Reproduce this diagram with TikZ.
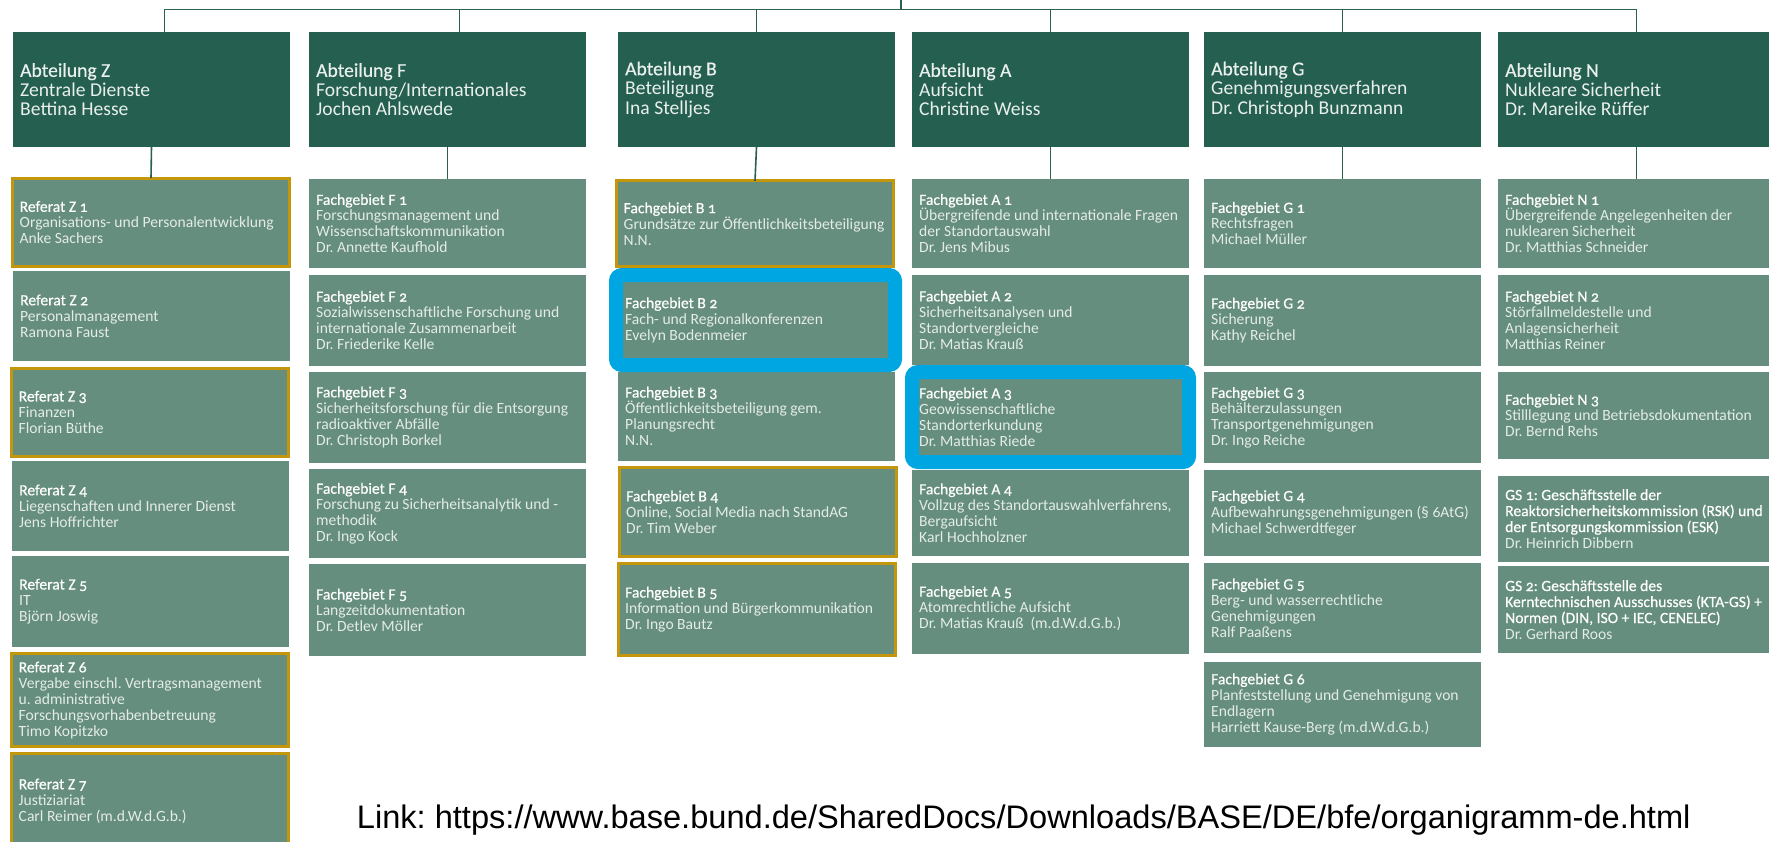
\documentclass[tikz,border=0pt]{standalone}
\usepackage{fontspec}
\setmainfont{Carlito}[Numbers=OldStyle]
\newfontfamily\ttlfont{Carlito}[Numbers=OldStyle,FakeBold=0.5]
\newfontfamily\linkfont{Liberation Sans}
\frenchspacing
\definecolor{dkgreen}{HTML}{245F4F}
\definecolor{subgreen}{HTML}{658E7E}
\definecolor{lineg}{HTML}{2B5F50}
\definecolor{goldc}{HTML}{C4960C}
\definecolor{hlblue}{HTML}{00A6E2}
\definecolor{bodytext}{HTML}{E4EBE8}
\tikzset{
  conn/.style={draw=lineg, line width=1.6pt},
  abt/.style={fill=dkgreen, anchor=north west, minimum width=277pt, minimum height=115pt, inner sep=0pt, outer sep=0pt},
  abttxt/.style={anchor=west, align=left, inner sep=0pt, text=white!90!dkgreen, font=\fontsize{19.6}{19.4}\selectfont},
  sub/.style={fill=subgreen, anchor=north west, minimum width=277pt, inner sep=0pt, outer sep=0pt},
  subtxt/.style={anchor=west, align=left, inner sep=0pt, text=bodytext, font=\fontsize{15.6}{16}\selectfont},
  gold/.style={draw=goldc, line width=3pt},
  plain/.style={},
  hl/.style={draw=hlblue, line width=14pt, rounded corners=6pt},
}
\newcommand{\ttl}[1]{{\ttlfont\color{white}#1}}
\newcommand{\ubox}[6]{%
  \node[sub,#5,minimum height=#4pt] (#1) at (#2,#3) {};
  \node[subtxt] (#1t) at ([xshift=7pt]#1.west) {#6};}
\newcommand{\abox}[4]{%
  \node[abt] (#1) at (#2,#3) {};
  \node[abttxt] (#1t) at ([xshift=7pt]#1.west) {#4};}
\begin{document}
\begin{tikzpicture}[x=1pt,y=-1pt]
\useasboundingbox (0,0) rectangle (1769,841);
\clip (0,0) rectangle (1769,841);
\fill[white] (0,0) rectangle (1769,841);

% Abteilungen
\abox{az}{13}{32}{{\ttlfont Abteilung Z}\\Zentrale Dienste\\Bettina Hesse}
\abox{af}{309}{32}{{\ttlfont Abteilung F}\\Forschung/Internationales\\Jochen Ahlswede}
\abox{ab}{618}{32}{{\ttlfont Abteilung B}\\Beteiligung\\Ina Stelljes}
\abox{aa}{912}{32}{{\ttlfont Abteilung A}\\Aufsicht\\Christine Weiss}
\abox{ag}{1204}{32}{{\ttlfont Abteilung G}\\Genehmigungsverfahren\\Dr. Christoph Bunzmann}
\abox{an}{1498}{32}{{\ttlfont Abteilung N}\\Nukleare Sicherheit\\Dr. Mareike Rüffer}

% Column Z
\ubox{z1}{12.5}{178.2}{88.6}{gold}{\ttl{Referat Z 1}\\Organisations- und Personalentwicklung\\Anke Sachers}
\ubox{z2}{13}{271}{90}{plain}{\ttl{Referat Z 2}\\Personalmanagement\\Ramona Faust}
\ubox{z3}{11.5}{368.2}{88}{gold}{\ttl{Referat Z 3}\\Finanzen\\Florian Büthe}
\ubox{z4}{12}{461}{90}{plain}{\ttl{Referat Z 4}\\Liegenschaften und Innerer Dienst\\Jens Hoffrichter}
\ubox{z5}{12}{556}{91}{plain}{\ttl{Referat Z 5}\\IT\\Björn Joswig}
\ubox{z6}{11.5}{653.8}{93}{gold}{\ttl{Referat Z 6}\\Vergabe einschl. Vertragsmanagement\\u. administrative\\Forschungsvorhabenbetreuung\\Timo Kopitzko}
\ubox{z7}{11.5}{753.5}{95}{gold}{\ttl{Referat Z 7}\\Justiziariat\\Carl Reimer (m.d.W.d.G.b.)}

% Column F
\ubox{f1}{309}{179}{89}{plain}{\ttl{Fachgebiet F 1}\\Forschungsmanagement und\\Wissenschaftskommunikation\\Dr. Annette Kaufhold}
\ubox{f2}{309}{275}{90.7}{plain}{\ttl{Fachgebiet F 2}\\Sozialwissenschaftliche Forschung und\\internationale Zusammenarbeit\\Dr. Friederike Kelle}
\ubox{f3}{309}{371.7}{91}{plain}{\ttl{Fachgebiet F 3}\\Sicherheitsforschung für die Entsorgung\\radioaktiver Abfälle\\Dr. Christoph Borkel}
\ubox{f4}{309}{469}{89.3}{plain}{\ttl{Fachgebiet F 4}\\Forschung zu Sicherheitsanalytik und -\\methodik\\Dr. Ingo Kock}
\ubox{f5}{309}{564.3}{91.7}{plain}{\ttl{Fachgebiet F 5}\\Langzeitdokumentation\\Dr. Detlev Möller}

% Column B
\ubox{b1}{616.5}{180.8}{86}{gold}{\ttl{Fachgebiet B 1}\\Grundsätze zur Öffentlichkeitsbeteiligung\\N.N.}
\ubox{b2}{618}{275}{90}{plain}{\ttl{Fachgebiet B 2}\\Fach- und Regionalkonferenzen\\Evelyn Bodenmeier}
\ubox{b3}{618}{371.7}{89}{plain}{\ttl{Fachgebiet B 3}\\Öffentlichkeitsbeteiligung gem.\\Planungsrecht\\N.N.}
\ubox{b4}{619}{467.2}{89.6}{gold}{\ttl{Fachgebiet B 4}\\Online, Social Media nach StandAG\\Dr. Tim Weber}
\ubox{b5}{618}{563.2}{92.6}{gold}{\ttl{Fachgebiet B 5}\\Information und Bürgerkommunikation\\Dr. Ingo Bautz}

% Column A
\ubox{a1}{912}{179}{89}{plain}{\ttl{Fachgebiet A 1}\\Übergreifende und internationale Fragen\\der Standortauswahl\\Dr. Jens Mibus}
\ubox{a2}{912}{275}{90}{plain}{\ttl{Fachgebiet A 2}\\Sicherheitsanalysen und\\Standortvergleiche\\Dr. Matias Krauß}
\ubox{a3}{912}{372}{90}{plain}{\ttl{Fachgebiet A 3}\\Geowissenschaftliche\\Standorterkundung\\Dr. Matthias Riede}
\ubox{a4}{912}{470}{86}{plain}{\ttl{Fachgebiet A 4}\\Vollzug des Standortauswahlverfahrens,\\Bergaufsicht\\Karl Hochholzner}
\ubox{a5}{912}{562.7}{91.3}{plain}{\ttl{Fachgebiet A 5}\\Atomrechtliche Aufsicht\\Dr. Matias Krauß\ \ (m.d.W.d.G.b.)}

% Column G
\ubox{g1}{1204}{179}{89}{plain}{\ttl{Fachgebiet G 1}\\Rechtsfragen\\Michael Müller}
\ubox{g2}{1204}{275}{90.7}{plain}{\ttl{Fachgebiet G 2}\\Sicherung\\Kathy Reichel}
\ubox{g3}{1204}{372.3}{91}{plain}{\ttl{Fachgebiet G 3}\\Behälterzulassungen\\Transportgenehmigungen\\Dr. Ingo Reiche}
\ubox{g4}{1204}{470}{86}{plain}{\ttl{Fachgebiet G 4}\\Aufbewahrungsgenehmigungen (§ 6AtG)\\Michael Schwerdtfeger}
\ubox{g5}{1204}{562.7}{90.6}{plain}{\ttl{Fachgebiet G 5}\\Berg- und wasserrechtliche\\Genehmigungen\\Ralf Paaßens}
\ubox{g6}{1204}{661.7}{85}{plain}{\ttl{Fachgebiet G 6}\\Planfeststellung und Genehmigung von\\Endlagern\\Harriett Kause-Berg (m.d.W.d.G.b.)}

% Column N
\ubox{n1}{1498}{179}{89}{plain}{\ttl{Fachgebiet N 1}\\Übergreifende Angelegenheiten der\\nuklearen Sicherheit\\Dr. Matthias Schneider}
\ubox{n2}{1498}{275}{90.7}{plain}{\ttl{Fachgebiet N 2}\\Störfallmeldestelle und\\Anlagensicherheit\\Matthias Reiner}
\ubox{n3}{1498}{371.7}{87.6}{plain}{\ttl{Fachgebiet N 3}\\Stilllegung und Betriebsdokumentation\\Dr. Bernd Rehs}
\ubox{gs1}{1498}{475.7}{86}{plain}{\ttl{GS 1: Geschäftsstelle der}\\\ttl{Reaktorsicherheitskommission (RSK) und}\\\ttl{der Entsorgungskommission (ESK)}\\Dr. Heinrich Dibbern}
\ubox{gs2}{1498}{566}{87.3}{plain}{\ttl{GS 2: Geschäftsstelle des}\\\ttl{Kerntechnischen Ausschusses (KTA-GS) +}\\\ttl{Normen (DIN, ISO + IEC, CENELEC)}\\Dr. Gerhard Roos}

% highlights
\draw[hl] ([xshift=-2pt]b2.north west) rectangle (b2.south east);
\draw[hl] (a3.north west) rectangle (a3.south east);

% connectors
\coordinate (root) at (900.7,0);
\coordinate (bus) at (900.7,9.3);
\draw[conn] (root) -- (bus);
\draw[conn] ([xshift=13pt]az.north) |- (bus) -| (an.north);
\draw[conn] ([xshift=12pt]af.north) -- ([xshift=12pt]af.north |- bus);
\draw[conn] (ab.north) -- (ab.north |- bus);
\draw[conn] (aa.north) -- (aa.north |- bus);
\draw[conn] (ag.north) -- (ag.north |- bus);
\draw[conn] (az.south) -- (z1.north);
\draw[conn] (af.south) -- (f1.north);
\draw[conn] (ab.south) -- (b1.north);
\draw[conn] (aa.south) -- (a1.north);
\draw[conn] (ag.south) -- (g1.north);
\draw[conn] (an.south) -- (n1.north);

% link
\node[anchor=base west, inner sep=0pt, font=\linkfont\fontsize{32.6}{36}\selectfont] (link) at (356.7,828) {Link: https://www.base.bund.de/SharedDocs/Downloads/BASE/DE/bfe/organigramm-de.html};
\end{tikzpicture}
\end{document}
